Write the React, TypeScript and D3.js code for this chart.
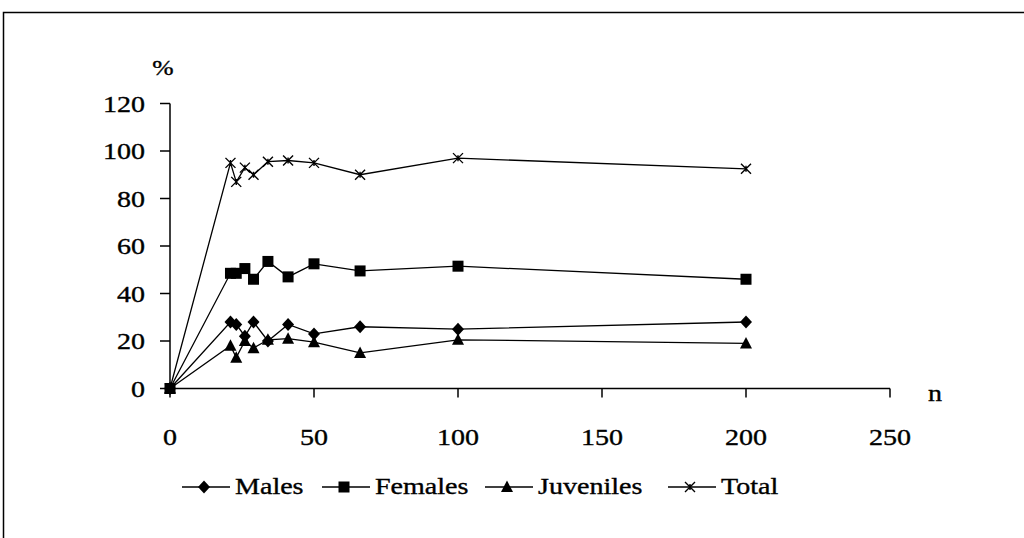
import React, { useEffect, useRef } from 'react';
import * as d3 from 'd3';

const nValues = [0, 21, 23, 26, 29, 34, 41, 50, 66, 100, 200];
const males = [0, 28, 27, 22, 28, 20, 27, 23, 26, 25, 28];
const females = [0, 48.5, 48.5, 50.5, 46, 53.5, 47, 52.5, 49.5, 51.5, 46];
const juveniles = [0, 18, 13, 20, 17, 20.5, 21, 19.5, 15, 20.5, 19];
const total = [0, 95, 87, 93, 90, 95.5, 96, 95, 90, 97, 92.5];

const seriesNames = ['Males', 'Females', 'Juveniles', 'Total'];
const xTicks = [0, 50, 100, 150, 200, 250];
const yTicks = [0, 20, 40, 60, 80, 100, 120];

type Marker = 'diamond' | 'square' | 'triangle' | 'cross';
type G = d3.Selection<SVGGElement, unknown, null, undefined>;

const FONT = '"Liberation Serif", "Times New Roman", serif';
const STRETCH = 1.22; // scanned text is wider than plain Times

function drawMarker(g: G, kind: Marker, cx: number, cy: number) {
  if (kind === 'diamond') {
    g.append('path')
      .attr('d', `M${cx},${cy - 6.5}L${cx + 6},${cy}L${cx},${cy + 6.5}L${cx - 6},${cy}Z`)
      .attr('fill', '#000');
  } else if (kind === 'square') {
    g.append('rect')
      .attr('x', cx - 5.5)
      .attr('y', cy - 5.5)
      .attr('width', 11)
      .attr('height', 11)
      .attr('fill', '#000');
  } else if (kind === 'triangle') {
    g.append('path')
      .attr('d', `M${cx},${cy - 6.5}L${cx + 6},${cy + 5}L${cx - 6},${cy + 5}Z`)
      .attr('fill', '#000');
  } else {
    g.append('path')
      .attr('d', `M${cx - 5},${cy - 5}L${cx + 5},${cy + 5}M${cx + 5},${cy - 5}L${cx - 5},${cy + 5}M${cx},${cy - 3}L${cx},${cy + 3}`)
      .attr('stroke', '#000')
      .attr('stroke-width', 1.4)
      .attr('fill', 'none');
  }
}

function label(g: G, tx: number, ty: number, text: string, anchor: string, size = 23) {
  g.append('text')
    .attr('transform', `translate(${tx},${ty}) scale(${STRETCH},1)`)
    .attr('text-anchor', anchor)
    .attr('font-family', FONT)
    .attr('font-size', size)
    .attr('stroke', '#000')
    .attr('stroke-width', 0.35)
    .text(text);
}

export default function App(): JSX.Element {
  const svgRef = useRef<SVGSVGElement>(null);

  useEffect(() => {
    const svgEl = svgRef.current;
    if (svgEl == null) {
      return;
    }
    const svg = d3.select(svgEl);
    svg.selectAll('*').remove();
    const root = svg.append('g') as unknown as G;

    const x = d3.scaleLinear().domain([0, 250]).range([170, 890]);
    const y = d3.scaleLinear().domain([0, 120]).range([388.5, 103.5]);

    // outer frame (runs off the right and bottom edge like the scan)
    root.append('path')
      .attr('d', 'M1030,12.5L3.5,12.5L3.5,545')
      .attr('fill', 'none')
      .attr('stroke', '#000')
      .attr('stroke-width', 1.5);

    // y axis
    root.append('line')
      .attr('x1', x(0)).attr('x2', x(0))
      .attr('y1', y(0)).attr('y2', y(120))
      .attr('stroke', '#000').attr('stroke-width', 1.5);
    yTicks.forEach((d) => {
      root.append('line')
        .attr('x1', x(0) - 10).attr('x2', x(0))
        .attr('y1', y(d)).attr('y2', y(d))
        .attr('stroke', '#000').attr('stroke-width', 1.5);
      label(root, 145, y(d) + 8, String(d), 'end');
    });

    // x axis
    root.append('line')
      .attr('x1', x(0)).attr('x2', x(250))
      .attr('y1', y(0)).attr('y2', y(0))
      .attr('stroke', '#000').attr('stroke-width', 1.5);
    xTicks.forEach((d) => {
      root.append('line')
        .attr('x1', x(d)).attr('x2', x(d))
        .attr('y1', y(0)).attr('y2', y(0) + 9)
        .attr('stroke', '#000').attr('stroke-width', 1.5);
      label(root, x(d), 445, String(d), 'middle');
    });

    label(root, 163, 75, '%', 'middle', 21);
    label(root, 935, 401, 'n', 'middle');

    const allSeries: { name: string; values: number[]; marker: Marker }[] = [
      { name: seriesNames[0], values: males, marker: 'diamond' },
      { name: seriesNames[1], values: females, marker: 'square' },
      { name: seriesNames[2], values: juveniles, marker: 'triangle' },
      { name: seriesNames[3], values: total, marker: 'cross' }
    ];

    const line = d3.line<number>()
      .x((_, i) => x(nValues[i]))
      .y((d) => y(d));

    allSeries.forEach((s) => {
      const g = root.append('g') as unknown as G;
      g.append('path')
        .attr('d', line(s.values) || '')
        .attr('fill', 'none')
        .attr('stroke', '#000')
        .attr('stroke-width', 1.3);
      s.values.forEach((v, i) => drawMarker(g, s.marker, x(nValues[i]), y(v)));
    });

    // legend
    const legendX = [182, 322, 485, 668];
    const legendY = 487;
    allSeries.forEach((s, i) => {
      const g = root.append('g') as unknown as G;
      const lx = legendX[i];
      g.append('line')
        .attr('x1', lx).attr('x2', lx + 48)
        .attr('y1', legendY).attr('y2', legendY)
        .attr('stroke', '#000').attr('stroke-width', 1.3);
      drawMarker(g, s.marker, lx + 22, legendY);
      label(g, lx + 53, legendY + 7, s.name, 'start');
    });
  }, []);

  return (
    <svg
      ref={svgRef}
      width={1024}
      height={538}
      style={{ position: 'fixed', left: 0, top: 0, background: '#fff' }}
    />
  );
}
